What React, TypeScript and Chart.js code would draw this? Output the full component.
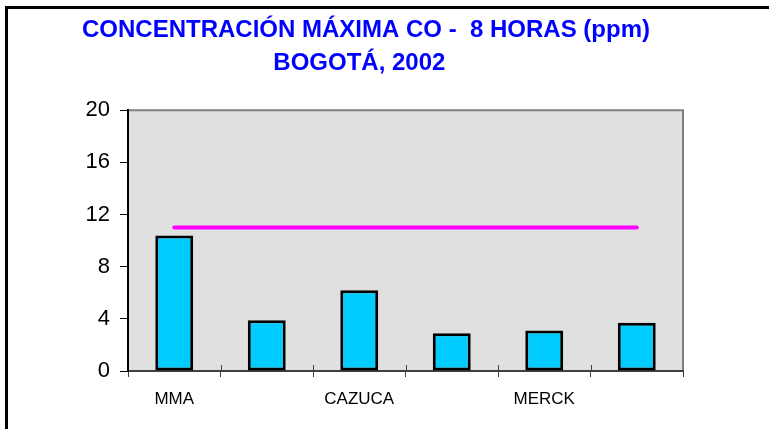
import React, { useEffect, useRef } from "react";
import { Chart, registerables } from "chart.js";

Chart.register(...registerables);

const titleLines = ["CONCENTRACIÓN MÁXIMA CO -  8 HORAS (ppm)", "BOGOTÁ, 2002  "];
const categories = ["MMA", "", "CAZUCA", "", "MERCK", ""];
const coValues = [10.4, 3.9, 6.2, 2.9, 3.1, 3.7];
const normValues = [11, 11, 11, 11, 11, 11];
const yTicks = [0, 4, 8, 12, 16, 20];

const plotBg = {
  id: "plotBg",
  beforeDraw(chart: any) {
    const { ctx, chartArea } = chart;
    if (!chartArea) return;
    ctx.save();
    ctx.fillStyle = "#e0e0e0";
    ctx.fillRect(chartArea.left, chartArea.top, chartArea.right - chartArea.left, chartArea.bottom - chartArea.top);
    ctx.strokeStyle = "#808080";
    ctx.lineWidth = 2;
    ctx.beginPath();
    ctx.moveTo(chartArea.left, chartArea.top);
    ctx.lineTo(chartArea.right, chartArea.top);
    ctx.lineTo(chartArea.right, chartArea.bottom);
    ctx.stroke();
    ctx.restore();
  },
  afterDatasetsDraw(chart: any) {
    const { ctx, chartArea } = chart;
    const xs = chart.scales.x;
    ctx.save();
    ctx.strokeStyle = "#404040";
    ctx.lineWidth = 1;
    ctx.beginPath();
    for (let i = 1; i < categories.length; i++) {
      const x = Math.round(xs.getPixelForValue(i - 0.5)) + 0.5;
      ctx.moveTo(x, chartArea.bottom - 6);
      ctx.lineTo(x, chartArea.bottom);
    }
    ctx.stroke();
    ctx.restore();
  },
};

export default function App() {
  const ref = useRef<HTMLCanvasElement>(null);
  useEffect(() => {
    if (!ref.current) return;
    const chart = new Chart(ref.current, {
      type: "bar",
      data: {
        labels: categories,
        datasets: [
          {
            type: "line",
            label: "Norma",
            data: normValues,
            borderColor: "#ff00ff",
            borderWidth: 4,
            borderCapStyle: "round",
            pointRadius: 0,
            fill: false,
            order: 0,
          } as any,
          {
            type: "bar",
            label: "CO",
            data: coValues,
            backgroundColor: "#00ccff",
            borderColor: "#000000",
            borderWidth: 3,
            borderSkipped: false,
            categoryPercentage: 1,
            barPercentage: 0.41,
            order: 1,
          } as any,
        ],
      },
      options: {
        responsive: false,
        animation: false,
        layout: { padding: { left: 0, right: 0, top: 0, bottom: 0 } },
        plugins: {
          legend: { display: false },
          tooltip: { enabled: false },
          title: {
            display: true,
            text: titleLines,
            color: "#0000ff",
            font: { family: "'Liberation Sans', Arial", size: 24, weight: "bold", lineHeight: 1.38 },
            padding: { top: 14, bottom: 30 },
          },
        },
        scales: {
          x: {
            offset: true,
            border: { display: true, color: "#404040", width: 2 },
            grid: { offset: true, drawOnChartArea: false, drawTicks: true, tickLength: 6, color: "#404040" },
            ticks: {
              color: "#000000",
              font: { family: "'Liberation Sans', Arial", size: 17 },
              padding: 12,
              maxRotation: 0,
              autoSkip: false,
            },
            afterFit(scale: any) {
              scale.height = 58;
            },
          },
          y: {
            min: 0,
            max: 20,
            border: { display: true, color: "#000000", width: 2 },
            grid: { drawOnChartArea: false, drawTicks: true, tickLength: 8, color: "#000000" },
            afterBuildTicks(scale: any) {
              scale.ticks = yTicks.map((v) => ({ value: v }));
            },
            ticks: {
              color: "#000000",
              font: { family: "'Liberation Sans', Arial", size: 22 },
              padding: 10,
            },
            afterFit(scale: any) {
              scale.width = 128;
            },
          },
          yRight: {
            position: "right",
            display: true,
            min: 0,
            max: 20,
            grid: { display: false },
            border: { display: false },
            ticks: { display: false },
            afterFit(scale: any) {
              scale.width = 49;
            },
          },
        },
      } as any,
      plugins: [plotBg],
    });
    return () => chart.destroy();
  }, []);

  return (
    <div style={{ position: "fixed", left: 0, top: 0, width: 769, height: 429, background: "#ffffff", overflow: "hidden" }}>
      <div
        style={{
          position: "absolute",
          left: 5,
          top: 6,
          width: 900,
          height: 600,
          borderLeft: "3px solid #000",
          borderTop: "3px solid #000",
        }}
      />
      <canvas ref={ref} width={732} height={429} style={{ position: "absolute", left: 0, top: 0, width: 732, height: 429 }} />
    </div>
  );
}
